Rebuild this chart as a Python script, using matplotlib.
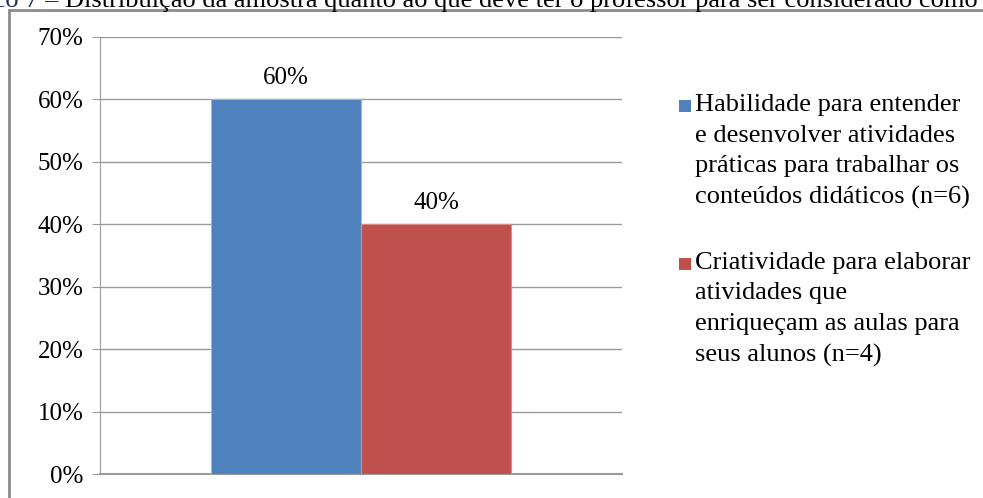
import matplotlib
matplotlib.use('Agg')
import matplotlib.pyplot as plt
from matplotlib.patches import Rectangle

plt.rcParams['font.family'] = ['Liberation Serif', 'DejaVu Serif']

# data
series = ['Habilidade para entender\ne desenvolver atividades\npráticas para trabalhar os\nconteúdos didáticos (n=6)',
          'Criatividade para elaborar\natividades que\nenriqueçam as aulas para\nseus alunos (n=4)']
values = [60, 40]
colors = ['#4F81BD', '#C0504D']
edges = ['#9DB6DB', '#E08A88']
yticks = [0, 10, 20, 30, 40, 50, 60, 70]

W, H = 983, 498
fig = plt.figure(figsize=(W/100, H/100), dpi=100)
ax = fig.add_axes([100/W, 1-474/H, 522/W, (474-37)/H])

bw = 0.288
xs = [-bw/2, bw/2]
for x, v, c, e in zip(xs, values, colors, edges):
    ax.bar(x, v, width=bw, color=c, edgecolor=e, linewidth=0.8, zorder=3)
    ax.text(x, v + 1.6, '%d%%' % v, ha='center', va='bottom', fontsize=18)

ax.set_xlim(-0.5, 0.5)
ax.set_ylim(0, 70)
ax.set_yticks(yticks)
ax.set_yticklabels(['%d%%' % t for t in yticks], fontsize=18)
ax.set_xticks([])
ax.yaxis.grid(True, color='#9a9a9a', linewidth=1.0, zorder=0)
ax.set_axisbelow(True)
for s in ['top', 'right']:
    ax.spines[s].set_visible(False)
ax.spines['left'].set_color('#9a9a9a')
ax.spines['bottom'].set_color('#9a9a9a')
ax.spines['bottom'].set_linewidth(1.5)
ax.tick_params(axis='y', length=6, color='#9a9a9a', pad=6)

# legend drawn by hand so the square sits on the first line
leg_top = [100, 258]
for lab, c, ty in zip(series, colors, leg_top):
    fig.patches.append(Rectangle((679/W, 1-(ty+12)/H), 12/W, 12/H, transform=fig.transFigure,
                                 facecolor=c, edgecolor='none'))
    fig.text(695/W, 1-(ty-6)/H, lab, fontsize=19, ha='left', va='top', linespacing=1.5)

# outer chart frame
fig.patches.append(Rectangle((9/W, -0.1), 1.1, 1.1 - 10.5/H, transform=fig.transFigure,
                             fill=False, edgecolor='#8c8c8c', linewidth=2))

# caption cut off at the top
fig.text(58/W, 1-7/H, 'Gráfico 7 –', color='#1F2A5C', fontsize=19, ha='right', va='baseline')
fig.text(65/W, 1-7/H, 'Distribuição da amostra quanto ao que deve ter o professor para ser considerado como',
         fontsize=19, ha='left', va='baseline')

fig.savefig('out.png', dpi=100)
